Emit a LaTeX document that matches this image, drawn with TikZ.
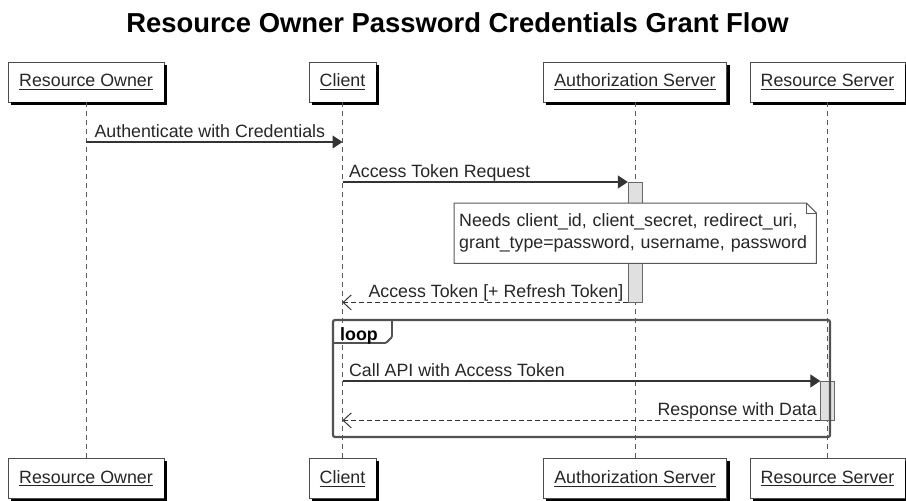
\documentclass[tikz,border=0pt]{standalone}
\usepackage{fontspec}
\setmainfont{Liberation Sans}
\usetikzlibrary{arrows.meta, positioning}

\newcommand{\uname}[1]{\setbox0\hbox{#1}\rlap{\rule[-3pt]{\wd0}{0.9pt}}\box0}

\begin{document}
\begin{tikzpicture}[
  x=1pt, y=-1pt,
  font=\fontsize{17.8}{22}\selectfont,
  actor/.style={draw=black!70, fill=white, text=black!85, minimum height=40pt, inner xsep=11pt, inner ysep=0pt},
  shade/.style={draw=black, line width=3pt},
  life/.style={draw=black!65, dash pattern=on 5pt off 4pt, line width=1pt},
  msg/.style={draw=black!80, line width=1.1pt, -{Triangle[length=10pt,width=13pt]}},
  reply/.style={draw=black!80, line width=1pt, dash pattern=on 5pt off 3pt, -{Straight Barb[length=8pt,width=15pt]}},
  act/.style={draw=black!60, fill=black!12, minimum width=14pt, inner sep=0pt, anchor=north},
  mlbl/.style={inner sep=0pt, text=black!85},
  note/.style={fill=white, text=black!85, inner xsep=5pt, inner ysep=0pt, minimum height=60pt, align=left, text width=352pt},
  frame/.style={draw=black!68, line width=2.2pt, rounded corners=2pt},
]
  \useasboundingbox (0,0) rectangle (906,501);

  \node[font=\bfseries\fontsize{27.4}{30}\selectfont, anchor=base] (title) at (457.5,32) {Resource Owner Password Credentials Grant Flow};

  % participants, top
  \node[actor] (roT) at (86,82) {\uname{Resource Owner}};
  \node[actor] (clT) at (342.5,82) {\uname{Client}};
  \node[actor] (asT) at (635,82) {\uname{Authorization Server}};
  \node[actor] (rsT) at (827.5,82) {\uname{Resource Server}};

  % participants, bottom
  \node[actor] (roB) at (86,478.5) {\uname{Resource Owner}};
  \node[actor] (clB) at (342.5,478.5) {\uname{Client}};
  \node[actor] (asB) at (635,478.5) {\uname{Authorization Server}};
  \node[actor] (rsB) at (827.5,478.5) {\uname{Resource Server}};

  % shadows
  \foreach \p in {roT,clT,asT,rsT,roB,clB,asB,rsB}
    \draw[shade] ([shift={(1.5pt,-3pt)}]\p.north east) |- ([shift={(3pt,-1.5pt)}]\p.south west);

  % lifelines
  \draw[life] (roT) -- (roB);
  \draw[life] (clT) -- (clB);
  \draw[life] (asT) -- (asB);
  \draw[life] (rsT) -- (rsB);

  % activations
  \node[act, minimum height=120pt] (asA) at (asT.south |- 0,182) {};
  \node[act, minimum height=39pt] (rsA) at (rsT.south |- 0,381) {};

  % messages
  \coordinate (m1a) at (roT.south |- 0,142);
  \coordinate (m1b) at (clT.south |- 0,142);
  \draw[msg] (m1a) -- (m1b) node[mlbl, pos=0, anchor=base west, xshift=8pt, yshift=5pt] {Authenticate with Credentials};

  \coordinate (m2a) at (clT.south |- asA.north);
  \draw[msg] (m2a) -- (asA.north west) node[mlbl, pos=0, anchor=base west, xshift=6pt, yshift=5pt] {Access Token Request};

  \coordinate (m3b) at (clT.south |- asA.south);
  \draw[reply] (asA.south west) -- (m3b) node[mlbl, pos=0, anchor=base east, xshift=-4pt, yshift=5pt] {Access Token [+ Refresh Token]};

  % note
  \node[note, anchor=north west] (nt) at (454,203) {Needs client\_id, client\_secret, redirect\_uri,\\grant\_type=password, username, password};
  \draw[draw=black!65, line width=1pt] (nt.north west) -- ([xshift=-10pt]nt.north east) -- ([yshift=-10pt]nt.north east) -- (nt.south east) -- (nt.south west) -- cycle;
  \draw[draw=black!65, line width=1pt] ([xshift=-10pt]nt.north east) -- ([xshift=-10pt,yshift=-10pt]nt.north east) -- ([yshift=-10pt]nt.north east);

  % loop
  \coordinate (m4a) at (clT.south |- rsA.north);
  \draw[msg] (m4a) -- (rsA.north west) node[mlbl, pos=0, anchor=base west, xshift=6pt, yshift=5pt] {Call API with Access Token};

  \coordinate (m5b) at (clT.south |- rsA.south);
  \draw[reply] (rsA.south west) -- (m5b) node[mlbl, pos=0, anchor=base east, xshift=-3pt, yshift=5pt] {Response with Data};

  \coordinate (lpNW) at (333,320);
  \coordinate (lpSE) at (830,437);
  \draw[frame] (lpNW) rectangle (lpSE);
  \draw[frame, line width=1.8pt, rounded corners=1pt] (lpNW |- 0,343) -- (386,343) -- (392,337) -- (392,320);
  \node[font=\bfseries\fontsize{17.8}{22}\selectfont, anchor=base west, inner sep=0pt] (lpT) at (340,340) {loop};
\end{tikzpicture}
\end{document}
